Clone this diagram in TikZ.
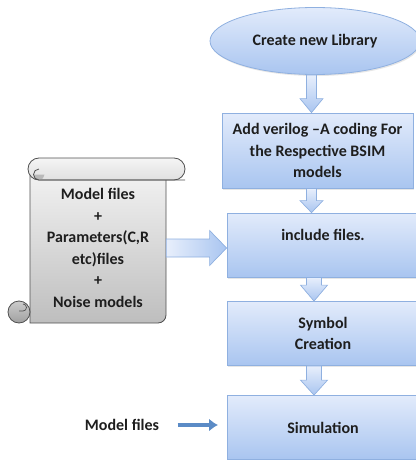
\documentclass[tikz,border=0pt]{standalone}
\usepackage{fontspec}
\setmainfont{Carlito}
\usetikzlibrary{calc,shadows,arrows.meta,shapes.geometric}
\definecolor{boxtop}{HTML}{E2EBFB}
\definecolor{boxbot}{HTML}{A9C5F0}
\definecolor{boxline}{HTML}{8FB0E0}
\definecolor{txt}{HTML}{1E1E1E}
\definecolor{grytop}{HTML}{F1F1F1}
\definecolor{grybot}{HTML}{BEBEBE}
\definecolor{gryline}{HTML}{505050}
\definecolor{arrblue}{HTML}{5B8BC6}
\newcommand\vblockarrow[5]{%
  \path[barrow] ($#1+(-#3,0)$) -- ($#2+(-#3,-#5)$) -- ($#2+(-#4,-#5)$) -- #2 --
    ($#2+(#4,-#5)$) -- ($#2+(#3,-#5)$) -- ($#1+(#3,0)$) -- cycle;}
\begin{document}
\begin{tikzpicture}[x=1pt,y=-1pt,
  every node/.style={font=\fontsize{16}{21.5}\selectfont\bfseries, text=txt},
  flowbox/.style={draw=boxline, line width=0.8pt, top color=boxtop, bottom color=boxbot,
    align=center, inner sep=2pt,
    drop shadow={shadow xshift=1pt, shadow yshift=-1.5pt, opacity=0.2}},
  barrow/.style={draw=boxline, line width=0.7pt, top color=boxtop!80!white, bottom color=boxbot, line join=miter},
  harrow/.style={draw=boxline, line width=0.7pt, left color=boxtop!80!white, right color=boxbot},
  scrollpart/.style={draw=gryline, line width=0.8pt},
]
\useasboundingbox (0,0) rectangle (415,460);

% --- flow boxes ---
\node[flowbox, ellipse, minimum width=210pt, minimum height=67pt] (ell) at (315,41) {Create new Library};
\node[flowbox, rectangle, minimum width=191pt, minimum height=75pt] (b1) at (317.5,150.5)
  {Add verilog \textendash A coding For\\the Respective BSIM\\models};
\node[flowbox, rectangle, minimum width=192pt, minimum height=64pt,
  label={[yshift=10pt]center:include files.}] (b2) at (323,245) {};
\node[flowbox, rectangle, minimum width=192pt, minimum height=64pt] (b3) at (323,333.5) {Symbol\\Creation};
\node[flowbox, rectangle, minimum width=192pt, minimum height=64pt] (b4) at (323,427.5) {Simulation};

% --- scroll ---
\shade[scrollpart, top color=grytop, bottom color=grybot]
  (30,175) -- (30,323) -- (158,323) arc[start angle=90, end angle=0, radius=8] -- (166,175);
\shade[scrollpart, top color=white!92!gray, bottom color=grytop!85!gray, rounded corners=11]
  (28,158) rectangle (185,180);
\fill[gray!55] (39,174.5) ++(5.5,0) arc[start angle=0, end angle=180, radius=5.5] -- cycle;
\draw[scrollpart] (39,169) arc[start angle=270, end angle=90, radius=5.5] -- (185,180);
\shade[scrollpart, top color=gray!40, bottom color=gray!75] (19,312) circle[radius=11];
\draw[gryline, line width=0.7pt] (23,304) arc[start angle=270, end angle=450, radius=3.5] -- (19,311);
\node[align=center, minimum width=136pt, minimum height=150pt, inner sep=0pt] (scroll) at (98,248)
  {Model files\\+\\Parameters(C,R\\etc)files\\+\\Noise models};

% --- block arrows ---
\coordinate (ax1) at (311.5,0);
\coordinate (ax2) at (314,0);
\vblockarrow{(ell.south -| ax1)}{(b1.north -| ax1)}{5}{11.5}{14}
\vblockarrow{(b1.south -| ax1)}{(b2.north -| ax1)}{5}{11.5}{12}
\vblockarrow{(b2.south -| ax2)}{(b3.north -| ax2)}{7.5}{13.5}{16}
\vblockarrow{(b3.south -| ax2)}{(b4.north -| ax2)}{7.5}{13.5}{15}
\path[harrow] ($(scroll.east)+(0,-9)$) -- ($(b2.west |- scroll.east)+(-17,-9)$)
  -- ($(b2.west |- scroll.east)+(-17,-17.5)$) -- (b2.west |- scroll.east)
  -- ($(b2.west |- scroll.east)+(-17,17.5)$) -- ($(b2.west |- scroll.east)+(-17,9)$)
  -- ($(scroll.east)+(0,9)$) -- cycle;

% --- model files input ---
\node (mf) at (122,425) {Model files};
\coordinate (mfend) at (218,425);
\draw[arrblue, line width=3.5pt, shorten <=15pt, -{Latex[length=9pt,width=13pt]}] (mf.east) -- (mfend);
\end{tikzpicture}
\end{document}
